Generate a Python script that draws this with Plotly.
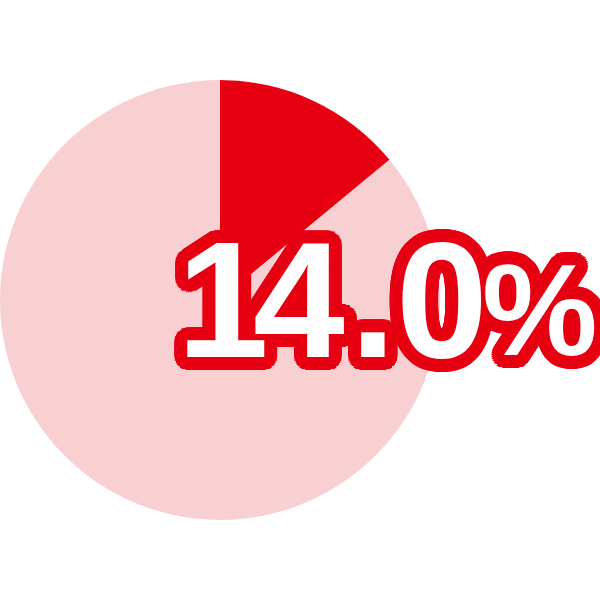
import math
import plotly.graph_objects as go

labels = ["該当", "その他"]
values = [14.0, 86.0]
colors = ["#E60012", "#F8D0D2"]
label_text = "14.0%"

RED = "#E60012"
parts = []
for r in (3, 6, 9, 12, 13):
    n = 40
    for k in range(n):
        a = 2 * math.pi * k / n
        parts.append(f"{r*math.cos(a):.1f}px {r*math.sin(a):.1f}px 0 {RED}")
shadow = ", ".join(parts)

fig = go.Figure(go.Pie(
    labels=labels, values=values, sort=False, direction="clockwise", rotation=0,
    marker=dict(colors=colors, line=dict(width=0)),
    textinfo="none", hoverinfo="skip", showlegend=False,
    domain=dict(x=[0, 440/600], y=[80/600, 520/600]),
))

# glyph placement of the big label (tight display spacing as in the reference)
glyph_x = [223, 299, 373, 442, 540]
glyph_y = [300, 300, 300, 300, 310]
glyph_size = [165, 165, 165, 165, 130]

for layer in ("outline", "fill"):
    for ch, gx, gy, gs in zip(label_text, glyph_x, glyph_y, glyph_size):
        font = dict(family="Liberation Sans, Arial", size=gs, weight="bold")
        if layer == "outline":
            font.update(color=RED, shadow=shadow)
        else:
            font.update(color="white")
        fig.add_annotation(
            x=gx/600, y=1 - gy/600, xref="paper", yref="paper",
            text=ch, showarrow=False, xanchor="center", yanchor="middle",
            font=font,
        )

fig.update_layout(width=600, height=600, margin=dict(l=0, r=0, t=0, b=0),
                  paper_bgcolor="white", plot_bgcolor="white")
fig.write_html("out.html", config={"displayModeBar": False},
               post_script="document.body.style.margin='0';document.body.style.overflow='hidden';")
